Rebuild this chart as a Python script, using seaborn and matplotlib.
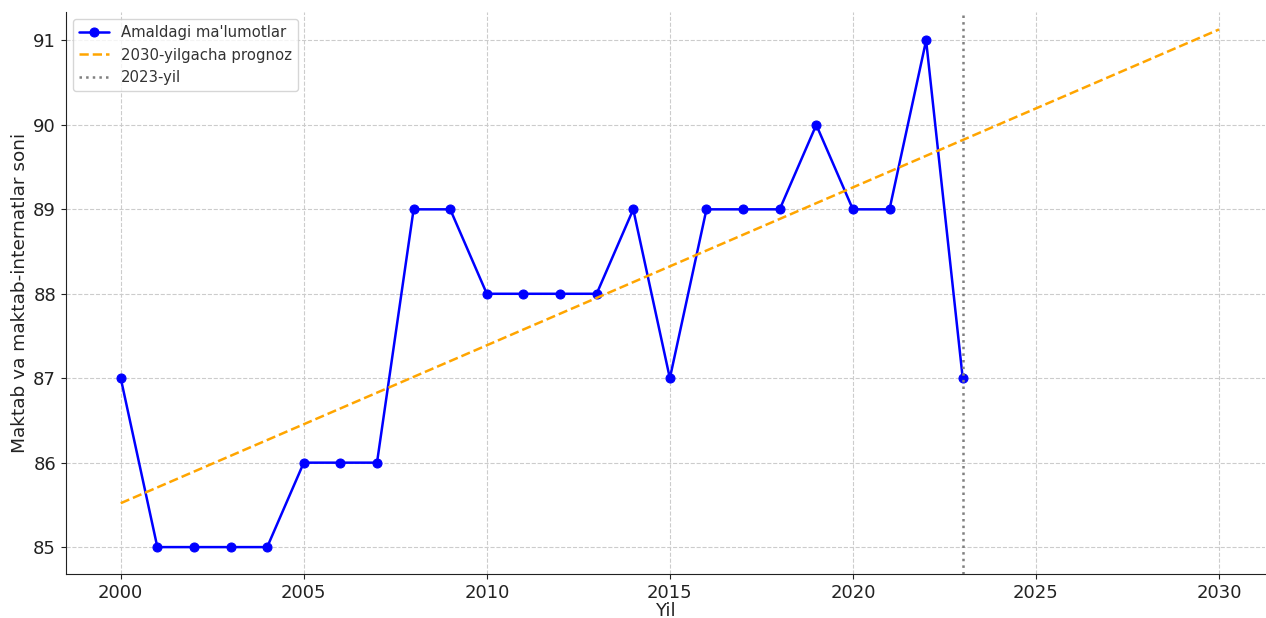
import matplotlib
matplotlib.use("Agg")
import matplotlib.pyplot as plt
import seaborn as sns
import pandas as pd

sns.set_style("ticks")
plt.rcParams['font.family'] = ['DejaVu Sans']

years = list(range(2000, 2024))
values = [87, 85, 85, 85, 85, 86, 86, 86, 89, 89, 88, 88,
          88, 88, 89, 87, 89, 89, 89, 90, 89, 89, 91, 87]

prognoz_years = [2000, 2030]
prognoz_values = [85.52, 91.13]

marker_year = 2023

df = pd.DataFrame({"Yil": years, "Soni": values})
df_prog = pd.DataFrame({"Yil": prognoz_years, "Soni": prognoz_values})

fig, ax = plt.subplots(figsize=(12.66, 6.18), dpi=100)
fig.subplots_adjust(left=0.052, right=0.999, top=0.981, bottom=0.071)

sns.lineplot(data=df, x="Yil", y="Soni", ax=ax, color="blue", marker="o",
             markersize=6.5, markeredgecolor="blue", linewidth=1.8,
             label="Amaldagi ma'lumotlar")
sns.lineplot(data=df_prog, x="Yil", y="Soni", ax=ax, color="orange",
             linestyle="--", linewidth=1.8, label="2030-yilgacha prognoz")
ax.axvline(marker_year, color="gray", linestyle=":", linewidth=1.8, label="2023-yil")

ax.set_xlim(1998.5, 2031.25)
ax.set_ylim(84.68, 91.34)

ax.grid(True, linestyle="--", color="#cccccc", linewidth=0.8)
for s in ["top", "right"]:
    ax.spines[s].set_visible(False)
ax.spines["left"].set_color("#222222")
ax.spines["bottom"].set_color("#222222")

ax.set_xlabel("Yil", fontsize=13, color="#222222", labelpad=0)
ax.set_ylabel("Maktab va maktab-internatlar soni", fontsize=13.3, color="#222222", labelpad=3)
ax.tick_params(labelsize=13, colors="#222222")
ax.set_xticks([2000, 2005, 2010, 2015, 2020, 2025, 2030])

leg = ax.legend(loc="upper left", fontsize=10.7, frameon=True)
for t in leg.get_texts():
    t.set_color("#333333")

fig.savefig("out.png", dpi=100)
